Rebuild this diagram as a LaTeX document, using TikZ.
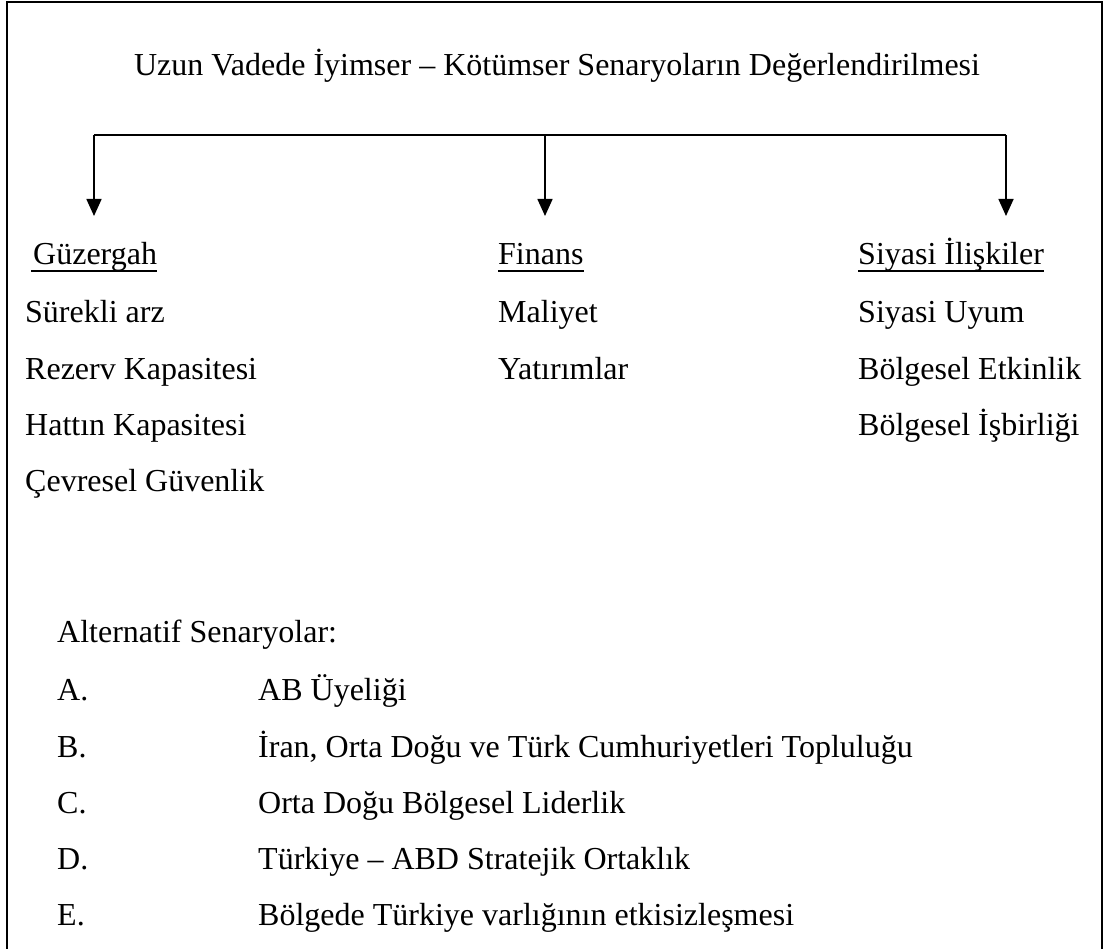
\documentclass[tikz,border=0pt]{standalone}
\usepackage{fontspec}
\setmainfont{Liberation Serif}
\usetikzlibrary{arrows.meta}
\begin{document}
\begin{tikzpicture}[x=1pt,y=-1pt,
  txt/.style={anchor=base west,inner sep=0pt,font=\fontsize{32}{38}\selectfont},
  ctr/.style={anchor=base,inner sep=0pt,font=\fontsize{32}{38}\selectfont},
  frame/.style={line width=2.8pt},
  conn/.style={line width=1.6pt},
  arr/.style={conn,-{Triangle[length=17pt,width=15pt]}},
  uline/.style={line width=1.8pt}]
\useasboundingbox (0,0) rectangle (1105,949);
\draw[frame] (7,960) -- (7,2) -- (1102,2) -- (1102,960);
\node[ctr] (title) at (557,76) {Uzun Vadede İyimser – Kötümser Senaryoların Değerlendirilmesi};
\coordinate (bl) at (94,135);
\coordinate (bm) at (545,135);
\coordinate (br) at (1006,135);
\coordinate (tl) at (94,216);
\coordinate (tm) at (545,216);
\coordinate (tr) at (1006,216);
\draw[conn] (bl) -- (br);
\draw[arr] (bl) -- (tl);
\draw[arr] (bm) -- (tm);
\draw[arr] (br) -- (tr);
% headings
\node[txt] (h1) at (33,265) {Güzergah};
\node[txt] (h2) at (498,265) {Finans};
\node[txt] (h3) at (858,265) {Siyasi İlişkiler};
\draw[uline] ([xshift=-2pt,yshift=-6pt]h1.base west) -- ([yshift=-6pt]h1.base east);
\draw[uline] ([yshift=-6pt]h2.base west) -- ([yshift=-6pt]h2.base east);
\draw[uline] ([yshift=-6pt]h3.base west) -- ([yshift=-6pt]h3.base east);
% column 1
\node[txt] (a1) at (25,323) {Sürekli arz};
\node[txt] (a2) at (25,379) {Rezerv Kapasitesi};
\node[txt] (a3) at (25,435) {Hattın Kapasitesi};
\node[txt] (a4) at (25,491) {Çevresel Güvenlik};
% column 2
\node[txt] (b1) at (498,323) {Maliyet};
\node[txt] (b2) at (498,379) {Yatırımlar};
% column 3
\node[txt] (c1) at (858,323) {Siyasi Uyum};
\node[txt] (c2) at (858,379) {Bölgesel Etkinlik};
\node[txt] (c3) at (858,435) {Bölgesel İşbirliği};
% alternatives
\node[txt] (alt) at (57,642) {Alternatif Senaryolar:};
\node[txt] (lA) at (57,700) {A.};
\node[txt] (iA) at (258,700) {AB Üyeliği};
\node[txt] (lB) at (57,757) {B.};
\node[txt] (iB) at (258,757) {İran, Orta Doğu ve Türk Cumhuriyetleri Topluluğu};
\node[txt] (lC) at (57,813) {C.};
\node[txt] (iC) at (258,813) {Orta Doğu Bölgesel Liderlik};
\node[txt] (lD) at (57,869) {D.};
\node[txt] (iD) at (258,869) {Türkiye – ABD Stratejik Ortaklık};
\node[txt] (lE) at (57,925) {E.};
\node[txt] (iE) at (258,925) {Bölgede Türkiye varlığının etkisizleşmesi};
\end{tikzpicture}
\end{document}
